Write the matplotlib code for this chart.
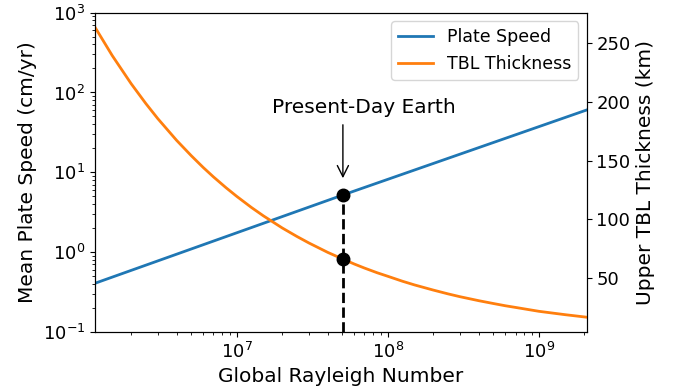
import matplotlib
matplotlib.use("Agg")
import matplotlib.pyplot as plt

# Mean plate speed vs. global Rayleigh number (straight line on log-log axes)
ra_speed = [1.153e6, 5.04e7, 2.07e9]
plate_speed = [0.405, 5.18, 60.3]

# Upper thermal boundary layer thickness (km) vs. global Rayleigh number
ra_tbl = [1.153e6, 1.5e6, 2e6, 2.5e6, 3e6, 4e6, 5e6, 6e6, 7e6, 8.5e6,
          1e7, 1.25e7, 1.5e7, 2e7, 2.5e7, 3e7, 4e7, 5.04e7, 6e7, 7e7, 8.5e7,
          1e8, 1.25e8, 1.5e8, 2e8, 2.5e8, 3e8, 4e8, 5e8, 6e8, 7e8, 8.5e8,
          1e9, 1.25e9, 1.5e9, 1.75e9, 2.07e9]
tbl_thickness = [263.1, 239.0, 215.2, 198.4, 185.6, 167.1, 154.1, 144.1, 136.2, 126.9,
                 119.6, 110.2, 103.1, 92.8, 85.6, 80.1, 72.1, 66.4, 62.2, 58.8, 54.8,
                 51.8, 47.6, 44.5, 40.1, 36.9, 34.5, 31.1, 28.7, 26.8, 25.4, 23.6,
                 22.1, 20.5, 19.2, 18.2, 17.1]

# Present-day Earth
ra_earth = 5.04e7
speed_earth = 5.18
tbl_earth = 66.4

fig = plt.figure(figsize=(6.8, 3.92), dpi=100)
ax = fig.add_axes([0.1397, 0.1538, 0.7231, 0.8138])
ax2 = ax.twinx()

l1, = ax.plot(ra_speed, plate_speed, color="#1f77b4", lw=2, label="Plate Speed")
l2, = ax2.plot(ra_tbl, tbl_thickness, color="#ff7f0e", lw=2, label="TBL Thickness")

ax.set_xscale("log")
ax.set_yscale("log")
ax.set_xlim(ra_speed[0], ra_speed[-1])
ax.set_ylim(1e-1, 1e3)

# dashed marker line and the two present-day points
ax.plot([ra_earth, ra_earth], [1e-1, speed_earth], "k--", lw=2)
ax.plot([ra_earth], [speed_earth], "o", color="k", ms=9, zorder=5)
ax2.plot([ra_earth], [tbl_earth], "o", color="k", ms=9, zorder=5)

ax.annotate("", xy=(ra_earth, 7.76), xytext=(ra_earth, 42.6),
            arrowprops=dict(arrowstyle="->", color="k", lw=1, mutation_scale=20))
ax.text(6.97e7, 65.7, "Present-Day Earth", ha="center", va="center", fontsize=14.5)

ax.set_xlabel("Global Rayleigh Number", fontsize=14.5)
ax.set_ylabel("Mean Plate Speed (cm/yr)", fontsize=14.5)
ax2.set_ylabel("Upper TBL Thickness (km)", fontsize=14.5)
ax.tick_params(labelsize=13)
ax2.tick_params(labelsize=13)

ax2.legend(handles=[l1, l2], loc="upper right", fontsize=12.5)

fig.savefig("out.png", dpi=100)
